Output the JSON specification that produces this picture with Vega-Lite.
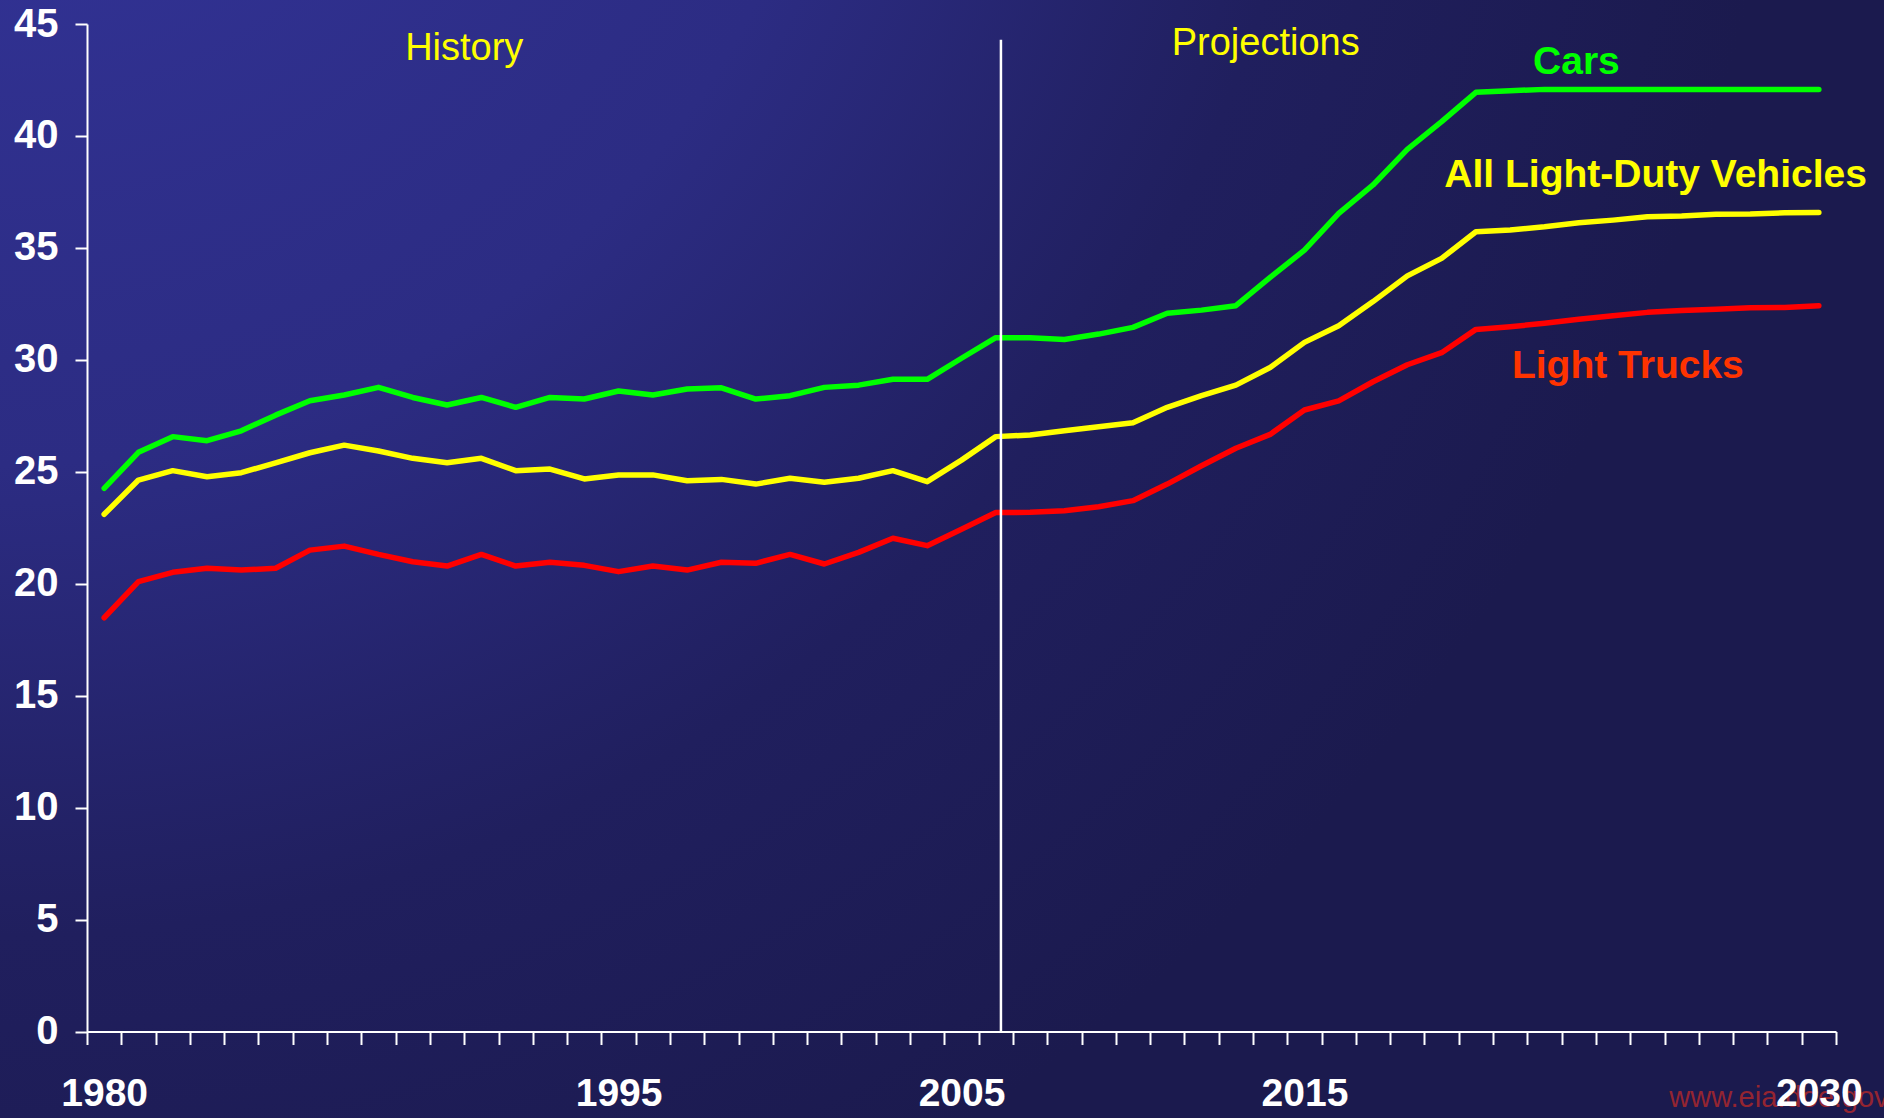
{
  "$schema": "https://vega.github.io/schema/vega-lite/v6.json",
  "width": 1884,
  "height": 1118,
  "autosize": {"type": "none"},
  "padding": 0,
  "background": "#1b1a4e",
  "config": {
    "font": "Liberation Sans",
    "view": {
      "stroke": null,
      "fill": {
        "gradient": "radial",
        "x1": 0, "y1": 0, "r1": 0,
        "x2": 0, "y2": 0, "r2": 1,
        "stops": [
          {"offset": 0, "color": "#34359c"},
          {"offset": 0.45, "color": "#2c2c83"},
          {"offset": 0.7, "color": "#201f5e"},
          {"offset": 0.95, "color": "#1b1a4e"}
        ]
      }
    }
  },
  "layer": [
    {
      "data": {
        "values": [
          {"year": 1980, "series": "Cars", "mpg": 24.26}, {"year": 1981, "series": "Cars", "mpg": 25.87}, {"year": 1982, "series": "Cars", "mpg": 26.57}, {"year": 1983, "series": "Cars", "mpg": 26.39}, {"year": 1984, "series": "Cars", "mpg": 26.83}, {"year": 1985, "series": "Cars", "mpg": 27.53}, {"year": 1986, "series": "Cars", "mpg": 28.17}, {"year": 1987, "series": "Cars", "mpg": 28.43}, {"year": 1988, "series": "Cars", "mpg": 28.77}, {"year": 1989, "series": "Cars", "mpg": 28.32}, {"year": 1990, "series": "Cars", "mpg": 27.98}, {"year": 1991, "series": "Cars", "mpg": 28.32}, {"year": 1992, "series": "Cars", "mpg": 27.88}, {"year": 1993, "series": "Cars", "mpg": 28.32}, {"year": 1994, "series": "Cars", "mpg": 28.25}, {"year": 1995, "series": "Cars", "mpg": 28.61}, {"year": 1996, "series": "Cars", "mpg": 28.43}, {"year": 1997, "series": "Cars", "mpg": 28.70}, {"year": 1998, "series": "Cars", "mpg": 28.75}, {"year": 1999, "series": "Cars", "mpg": 28.25}, {"year": 2000, "series": "Cars", "mpg": 28.40}, {"year": 2001, "series": "Cars", "mpg": 28.77}, {"year": 2002, "series": "Cars", "mpg": 28.87}, {"year": 2003, "series": "Cars", "mpg": 29.13}, {"year": 2004, "series": "Cars", "mpg": 29.13}, {"year": 2005, "series": "Cars", "mpg": 30.07}, {"year": 2006, "series": "Cars", "mpg": 30.99}, {"year": 2007, "series": "Cars", "mpg": 30.99}, {"year": 2008, "series": "Cars", "mpg": 30.91}, {"year": 2009, "series": "Cars", "mpg": 31.15}, {"year": 2010, "series": "Cars", "mpg": 31.45}, {"year": 2011, "series": "Cars", "mpg": 32.08}, {"year": 2012, "series": "Cars", "mpg": 32.22}, {"year": 2013, "series": "Cars", "mpg": 32.42}, {"year": 2014, "series": "Cars", "mpg": 33.68}, {"year": 2015, "series": "Cars", "mpg": 34.90}, {"year": 2016, "series": "Cars", "mpg": 36.54}, {"year": 2017, "series": "Cars", "mpg": 37.81}, {"year": 2018, "series": "Cars", "mpg": 39.40}, {"year": 2019, "series": "Cars", "mpg": 40.64}, {"year": 2020, "series": "Cars", "mpg": 41.95}, {"year": 2021, "series": "Cars", "mpg": 42.02}, {"year": 2022, "series": "Cars", "mpg": 42.08}, {"year": 2023, "series": "Cars", "mpg": 42.08}, {"year": 2024, "series": "Cars", "mpg": 42.08}, {"year": 2025, "series": "Cars", "mpg": 42.08}, {"year": 2026, "series": "Cars", "mpg": 42.08}, {"year": 2027, "series": "Cars", "mpg": 42.08}, {"year": 2028, "series": "Cars", "mpg": 42.08}, {"year": 2029, "series": "Cars", "mpg": 42.08}, {"year": 2030, "series": "Cars", "mpg": 42.08},
          {"year": 1980, "series": "All Light-Duty Vehicles", "mpg": 23.10}, {"year": 1981, "series": "All Light-Duty Vehicles", "mpg": 24.63}, {"year": 1982, "series": "All Light-Duty Vehicles", "mpg": 25.05}, {"year": 1983, "series": "All Light-Duty Vehicles", "mpg": 24.78}, {"year": 1984, "series": "All Light-Duty Vehicles", "mpg": 24.96}, {"year": 1985, "series": "All Light-Duty Vehicles", "mpg": 25.40}, {"year": 1986, "series": "All Light-Duty Vehicles", "mpg": 25.85}, {"year": 1987, "series": "All Light-Duty Vehicles", "mpg": 26.19}, {"year": 1988, "series": "All Light-Duty Vehicles", "mpg": 25.93}, {"year": 1989, "series": "All Light-Duty Vehicles", "mpg": 25.60}, {"year": 1990, "series": "All Light-Duty Vehicles", "mpg": 25.40}, {"year": 1991, "series": "All Light-Duty Vehicles", "mpg": 25.60}, {"year": 1992, "series": "All Light-Duty Vehicles", "mpg": 25.05}, {"year": 1993, "series": "All Light-Duty Vehicles", "mpg": 25.12}, {"year": 1994, "series": "All Light-Duty Vehicles", "mpg": 24.68}, {"year": 1995, "series": "All Light-Duty Vehicles", "mpg": 24.86}, {"year": 1996, "series": "All Light-Duty Vehicles", "mpg": 24.86}, {"year": 1997, "series": "All Light-Duty Vehicles", "mpg": 24.60}, {"year": 1998, "series": "All Light-Duty Vehicles", "mpg": 24.66}, {"year": 1999, "series": "All Light-Duty Vehicles", "mpg": 24.45}, {"year": 2000, "series": "All Light-Duty Vehicles", "mpg": 24.71}, {"year": 2001, "series": "All Light-Duty Vehicles", "mpg": 24.53}, {"year": 2002, "series": "All Light-Duty Vehicles", "mpg": 24.71}, {"year": 2003, "series": "All Light-Duty Vehicles", "mpg": 25.05}, {"year": 2004, "series": "All Light-Duty Vehicles", "mpg": 24.56}, {"year": 2005, "series": "All Light-Duty Vehicles", "mpg": 25.52}, {"year": 2006, "series": "All Light-Duty Vehicles", "mpg": 26.57}, {"year": 2007, "series": "All Light-Duty Vehicles", "mpg": 26.64}, {"year": 2008, "series": "All Light-Duty Vehicles", "mpg": 26.83}, {"year": 2009, "series": "All Light-Duty Vehicles", "mpg": 27.01}, {"year": 2010, "series": "All Light-Duty Vehicles", "mpg": 27.19}, {"year": 2011, "series": "All Light-Duty Vehicles", "mpg": 27.88}, {"year": 2012, "series": "All Light-Duty Vehicles", "mpg": 28.40}, {"year": 2013, "series": "All Light-Duty Vehicles", "mpg": 28.87}, {"year": 2014, "series": "All Light-Duty Vehicles", "mpg": 29.66}, {"year": 2015, "series": "All Light-Duty Vehicles", "mpg": 30.78}, {"year": 2016, "series": "All Light-Duty Vehicles", "mpg": 31.52}, {"year": 2017, "series": "All Light-Duty Vehicles", "mpg": 32.60}, {"year": 2018, "series": "All Light-Duty Vehicles", "mpg": 33.75}, {"year": 2019, "series": "All Light-Duty Vehicles", "mpg": 34.53}, {"year": 2020, "series": "All Light-Duty Vehicles", "mpg": 35.72}, {"year": 2021, "series": "All Light-Duty Vehicles", "mpg": 35.80}, {"year": 2022, "series": "All Light-Duty Vehicles", "mpg": 35.94}, {"year": 2023, "series": "All Light-Duty Vehicles", "mpg": 36.12}, {"year": 2024, "series": "All Light-Duty Vehicles", "mpg": 36.24}, {"year": 2025, "series": "All Light-Duty Vehicles", "mpg": 36.39}, {"year": 2026, "series": "All Light-Duty Vehicles", "mpg": 36.42}, {"year": 2027, "series": "All Light-Duty Vehicles", "mpg": 36.50}, {"year": 2028, "series": "All Light-Duty Vehicles", "mpg": 36.51}, {"year": 2029, "series": "All Light-Duty Vehicles", "mpg": 36.57}, {"year": 2030, "series": "All Light-Duty Vehicles", "mpg": 36.58},
          {"year": 1980, "series": "Light Trucks", "mpg": 18.48}, {"year": 1981, "series": "Light Trucks", "mpg": 20.09}, {"year": 1982, "series": "Light Trucks", "mpg": 20.51}, {"year": 1983, "series": "Light Trucks", "mpg": 20.69}, {"year": 1984, "series": "Light Trucks", "mpg": 20.61}, {"year": 1985, "series": "Light Trucks", "mpg": 20.69}, {"year": 1986, "series": "Light Trucks", "mpg": 21.50}, {"year": 1987, "series": "Light Trucks", "mpg": 21.68}, {"year": 1988, "series": "Light Trucks", "mpg": 21.31}, {"year": 1989, "series": "Light Trucks", "mpg": 20.98}, {"year": 1990, "series": "Light Trucks", "mpg": 20.79}, {"year": 1991, "series": "Light Trucks", "mpg": 21.31}, {"year": 1992, "series": "Light Trucks", "mpg": 20.79}, {"year": 1993, "series": "Light Trucks", "mpg": 20.96}, {"year": 1994, "series": "Light Trucks", "mpg": 20.82}, {"year": 1995, "series": "Light Trucks", "mpg": 20.54}, {"year": 1996, "series": "Light Trucks", "mpg": 20.79}, {"year": 1997, "series": "Light Trucks", "mpg": 20.61}, {"year": 1998, "series": "Light Trucks", "mpg": 20.96}, {"year": 1999, "series": "Light Trucks", "mpg": 20.91}, {"year": 2000, "series": "Light Trucks", "mpg": 21.31}, {"year": 2001, "series": "Light Trucks", "mpg": 20.88}, {"year": 2002, "series": "Light Trucks", "mpg": 21.40}, {"year": 2003, "series": "Light Trucks", "mpg": 22.03}, {"year": 2004, "series": "Light Trucks", "mpg": 21.70}, {"year": 2005, "series": "Light Trucks", "mpg": 22.43}, {"year": 2006, "series": "Light Trucks", "mpg": 23.18}, {"year": 2007, "series": "Light Trucks", "mpg": 23.19}, {"year": 2008, "series": "Light Trucks", "mpg": 23.26}, {"year": 2009, "series": "Light Trucks", "mpg": 23.44}, {"year": 2010, "series": "Light Trucks", "mpg": 23.71}, {"year": 2011, "series": "Light Trucks", "mpg": 24.45}, {"year": 2012, "series": "Light Trucks", "mpg": 25.27}, {"year": 2013, "series": "Light Trucks", "mpg": 26.05}, {"year": 2014, "series": "Light Trucks", "mpg": 26.67}, {"year": 2015, "series": "Light Trucks", "mpg": 27.76}, {"year": 2016, "series": "Light Trucks", "mpg": 28.17}, {"year": 2017, "series": "Light Trucks", "mpg": 29.02}, {"year": 2018, "series": "Light Trucks", "mpg": 29.78}, {"year": 2019, "series": "Light Trucks", "mpg": 30.32}, {"year": 2020, "series": "Light Trucks", "mpg": 31.36}, {"year": 2021, "series": "Light Trucks", "mpg": 31.48}, {"year": 2022, "series": "Light Trucks", "mpg": 31.63}, {"year": 2023, "series": "Light Trucks", "mpg": 31.81}, {"year": 2024, "series": "Light Trucks", "mpg": 31.97}, {"year": 2025, "series": "Light Trucks", "mpg": 32.12}, {"year": 2026, "series": "Light Trucks", "mpg": 32.20}, {"year": 2027, "series": "Light Trucks", "mpg": 32.26}, {"year": 2028, "series": "Light Trucks", "mpg": 32.33}, {"year": 2029, "series": "Light Trucks", "mpg": 32.34}, {"year": 2030, "series": "Light Trucks", "mpg": 32.42}
        ]
      },
      "mark": {"type": "line", "strokeWidth": 5.5, "strokeCap": "round", "strokeJoin": "round"},
      "encoding": {
        "x": {
          "field": "year",
          "type": "quantitative",
          "scale": {"domain": [1979.5, 2030.5], "range": [87, 1836], "nice": false, "zero": false},
          "axis": {
            "title": null,
            "grid": false,
            "offset": -86.5,
            "tickCount": 200,
            "values": [1979.5, 1980.5, 1981.5, 1982.5, 1983.5, 1984.5, 1985.5, 1986.5, 1987.5, 1988.5, 1989.5, 1990.5, 1991.5, 1992.5, 1993.5, 1994.5, 1995.5, 1996.5, 1997.5, 1998.5, 1999.5, 2000.5, 2001.5, 2002.5, 2003.5, 2004.5, 2005.5, 2006.5, 2007.5, 2008.5, 2009.5, 2010.5, 2011.5, 2012.5, 2013.5, 2014.5, 2015.5, 2016.5, 2017.5, 2018.5, 2019.5, 2020.5, 2021.5, 2022.5, 2023.5, 2024.5, 2025.5, 2026.5, 2027.5, 2028.5, 2029.5, 2030.5],
            "labelExpr": "indexof([1979.5, 1994.5, 2004.5, 2014.5, 2029.5], datum.value) >= 0 ? '' + (datum.value + 0.5) : ''",
            "labelOffset": 17.15,
            "labelOverlap": false,
            "labelFlush": false,
            "labelBound": false,
            "tickSize": 13,
            "tickWidth": 2,
            "tickColor": "#ffffff",
            "domainColor": "#ffffff",
            "domainWidth": 2,
            "labelColor": "#ffffff",
            "labelFontSize": 39,
            "labelFontWeight": "bold",
            "labelPadding": 30,
            "zindex": 1
          }
        },
        "y": {
          "field": "mpg",
          "type": "quantitative",
          "scale": {"domain": [0, 45], "range": [1031.5, 24], "nice": false},
          "axis": {
            "title": null,
            "grid": false,
            "offset": -87,
            "values": [0, 5, 10, 15, 20, 25, 30, 35, 40, 45],
            "tickSize": 12,
            "tickWidth": 2,
            "tickColor": "#ffffff",
            "domainColor": "#ffffff",
            "domainWidth": 2,
            "labelColor": "#ffffff",
            "labelFontSize": 40,
            "labelFontWeight": "bold",
            "labelPadding": 17
          }
        },
        "color": {
          "field": "series",
          "type": "nominal",
          "scale": {"domain": ["Cars", "All Light-Duty Vehicles", "Light Trucks"], "range": ["#00ff00", "#ffff00", "#ff0000"]},
          "legend": null
        }
      }
    },
    {
      "data": {"values": [{}]},
      "mark": {"type": "rule", "color": "#ffffff", "strokeWidth": 2.5},
      "encoding": {"x": {"datum": 2006.15}, "y": {"datum": 0}, "y2": {"datum": 44.3}}
    },
    {
      "data": {"values": [{}]},
      "mark": {"type": "text", "text": "History", "color": "#ffff00", "fontSize": 38, "align": "center", "baseline": "alphabetic"},
      "encoding": {"x": {"datum": 1990.5}, "y": {"datum": 43.4}}
    },
    {
      "data": {"values": [{}]},
      "mark": {"type": "text", "text": "Projections", "color": "#ffff00", "fontSize": 38, "align": "center", "baseline": "alphabetic"},
      "encoding": {"x": {"datum": 2013.87}, "y": {"datum": 43.6}}
    },
    {
      "data": {"values": [{}]},
      "mark": {"type": "text", "text": "Cars", "color": "#00ff00", "fontSize": 39, "fontWeight": "bold", "align": "center", "baseline": "alphabetic"},
      "encoding": {"x": {"datum": 2022.93}, "y": {"datum": 42.76}}
    },
    {
      "data": {"values": [{}]},
      "mark": {"type": "text", "text": "All Light-Duty Vehicles", "color": "#ffff00", "fontSize": 39, "fontWeight": "bold", "align": "left", "baseline": "alphabetic"},
      "encoding": {"x": {"datum": 2019.08}, "y": {"datum": 37.73}}
    },
    {
      "data": {"values": [{}]},
      "mark": {"type": "text", "text": "Light Trucks", "color": "#ff3300", "fontSize": 39, "fontWeight": "bold", "align": "left", "baseline": "alphabetic"},
      "encoding": {"x": {"datum": 2021.05}, "y": {"datum": 29.17}}
    },
    {
      "data": {"values": [{}]},
      "mark": {"type": "text", "text": "www.eia.doe.gov", "color": "#b3282a", "opacity": 0.8, "fontSize": 29, "align": "left", "baseline": "alphabetic"},
      "encoding": {"x": {"datum": 2025.64}, "y": {"datum": -3.37}}
    }
  ]
}
